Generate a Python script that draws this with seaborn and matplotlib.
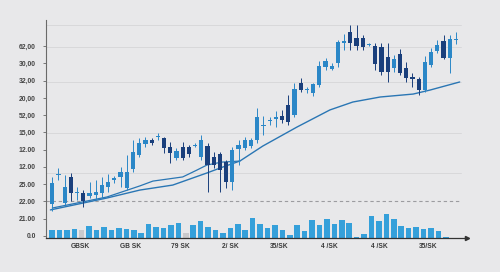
import numpy as np
import pandas as pd
import matplotlib
matplotlib.use("Agg")
import matplotlib.pyplot as plt
import seaborn as sns

# ---------------- data ----------------
opens = [18.5, 35.3, 19.1, 34.2, 24.9, 24.9, 23.2, 23.7, 24.9, 28.4,
         32.4, 34.2, 27.8, 38.8, 46.9, 53.3, 55.6, 57.3, 56.7, 51.5,
         45.2, 51.5, 51.5, 52.1, 45.7, 52.1, 45.7, 47.5, 42.8, 31.3,
         50.4, 51.0, 52.1, 55.6, 63.7, 66.6, 67.7, 69.5, 75.9, 70.1,
         88.6, 84.5, 82.8, 87.4, 97.9, 96.7, 100.2, 111.8, 118.1, 114.6,
         114.6, 110.6, 110.0, 109.4, 103.6, 97.3, 105.4, 97.3, 92.1, 90.9,
         84.5, 99.0, 107.1, 112.9, 103.1, 113.8]
closes = [30.7, 35.9, 28.4, 24.9, 25.5, 20.3, 24.9, 25.5, 29.5, 31.3,
          33.6, 37.1, 37.1, 48.6, 53.9, 55.6, 53.9, 57.9, 51.0, 48.1,
          49.2, 45.2, 47.5, 52.7, 55.6, 41.1, 41.1, 38.2, 31.3, 49.8,
          52.7, 55.6, 55.6, 68.9, 64.3, 67.2, 68.9, 67.2, 66.0, 85.1,
          84.5, 85.1, 88.0, 98.4, 101.3, 98.4, 112.3, 112.9, 111.8, 110.0,
          109.4, 111.2, 99.6, 95.0, 95.0, 102.5, 94.4, 91.5, 90.9, 84.5,
          100.8, 106.5, 110.6, 103.1, 114.1, 114.1]
highs = [34.2, 39.4, 35.3, 36.5, 28.4, 26.6, 31.3, 32.4, 34.2, 35.9,
         34.7, 40.0, 46.9, 55.6, 56.7, 57.3, 56.7, 59.6, 57.3, 54.4,
         51.0, 54.4, 52.7, 53.9, 58.5, 53.9, 48.6, 48.6, 44.0, 51.5,
         55.6, 57.3, 56.7, 74.1, 69.5, 68.9, 72.4, 73.0, 81.6, 88.6,
         91.5, 86.3, 88.6, 101.3, 103.1, 100.2, 113.5, 117.0, 122.2, 122.2,
         116.4, 111.8, 111.8, 111.8, 111.8, 104.8, 108.3, 100.8, 94.4, 92.1,
         104.2, 108.9, 113.5, 116.4, 116.4, 118.1]
lows = [14.5, 32.4, 17.9, 20.3, 20.8, 16.8, 22.0, 20.8, 22.0, 25.5,
        30.7, 28.4, 26.6, 37.1, 45.7, 51.5, 52.7, 55.6, 48.1, 42.3,
        44.0, 44.0, 45.7, 51.5, 44.0, 25.5, 39.4, 25.5, 27.8, 26.6,
        41.1, 49.8, 51.0, 53.9, 58.5, 64.3, 63.1, 65.4, 64.3, 68.9,
        83.4, 82.8, 81.1, 86.3, 96.1, 96.1, 97.9, 107.7, 107.7, 107.7,
        107.7, 110.0, 96.1, 93.2, 89.2, 95.0, 93.2, 89.2, 86.3, 81.6,
        83.4, 97.9, 106.0, 102.5, 94.4, 111.2]

volume = [80, 80, 80, 90, 80, 120, 80, 110, 80, 100,
          90, 80, 50, 140, 110, 100, 130, 150, 50, 130,
          170, 110, 80, 50, 100, 140, 80, 200, 140, 100,
          130, 80, 30, 130, 70, 180, 130, 190, 140, 180,
          150, 10, 40, 220, 170, 240, 190, 120, 100, 110,
          90, 100, 70, 10]
volume_muted = [4, 18]

ma_slow_idx = [-0.3, 8.8, 14.1, 19.4, 24.9, 27.5, 30.2, 33.9, 39.4, 44.7,
               48.4, 52.8, 58.1, 60.8, 65.6]
ma_slow_val = [15.1, 22.0, 26.6, 29.5, 36.5, 40.0, 43.4, 52.1, 63.1, 73.0,
               77.6, 80.5, 82.2, 84.5, 89.2]
ma_fast_idx = [0.0, 8.8, 14.1, 16.2, 21.0, 23.3, 24.9, 27.3, 30.2]
ma_fast_val = [16.2, 22.6, 29.0, 31.8, 34.2, 38.2, 41.1, 42.8, 43.4]

y_tick_values = [0, 10, 20, 30, 40, 50, 60, 70, 80, 90, 100, 110]
y_tick_labels = ["0.0", "21.00", "22.00", "25.00", "12.00", "12.00",
                 "15,00", "52,00", "20,00", "32,00", "30,00", "62,00"]
x_tick_labels = ["GBSK", "GB SK", "79 SK", "2/ SK", "35/SK", "4 /SK", "4 /SK", "35/SK"]

grid_levels = [36.5, 59.6, 89.2, 109.4, 122.2]
ref_level = 20

# ---------------- style ----------------
BG = "#e8e8ea"
LIGHT = "#2b87c7"
DARK = "#1a3f7c"
VOL = "#35a0da"
MUTED = "#c9cacd"
MA = "#2a76b4"

sns.set_theme(style="white")
plt.rcParams["font.family"] = ["Liberation Sans", "DejaVu Sans"]

fig = plt.figure(figsize=(5.0, 2.72), dpi=100, facecolor=BG)
pos = [46 / 500, 1 - 238 / 272, 421 / 500, 218 / 272]

# volume axes (behind)
ax_v = fig.add_axes(pos, facecolor=BG)
vol_df = pd.DataFrame({
    "bar": np.arange(len(volume)),
    "volume": volume,
    "kind": ["muted" if i in volume_muted else "normal" for i in range(len(volume))],
})
sns.barplot(data=vol_df, x="bar", y="volume", hue="kind",
            palette={"normal": VOL, "muted": MUTED}, dodge=False,
            width=0.74, saturation=1, legend=False, linewidth=0, ax=ax_v)
ax_v.set_xlim(-0.81, 55.85)
ax_v.set_ylim(0, 2180)
ax_v.axis("off")

# main price axes
ax = fig.add_axes(pos, facecolor="none")
o = np.array(opens); c = np.array(closes)
h = np.array(highs); l = np.array(lows)
idx = np.arange(len(o))
cols = np.where(c >= o, LIGHT, DARK)

for lvl in grid_levels:
    ax.axhline(lvl, color="#d5d5d8", lw=0.6, zorder=0, xmax=0.985)
ax.axhline(ref_level, color="#9c9ca0", lw=0.8, ls=(0, (3, 2.5)), zorder=0.5, xmax=0.985)

ax.vlines(idx, l, h, colors=cols, lw=0.7, zorder=2)
ax.bar(idx, np.maximum(np.abs(c - o), 0.5), bottom=np.minimum(o, c),
       width=0.68, color=cols, linewidth=0, zorder=3)

sns.lineplot(x=ma_fast_idx, y=ma_fast_val, ax=ax, color=MA, lw=0.9, zorder=1.5)
sns.lineplot(x=ma_slow_idx, y=ma_slow_val, ax=ax, color=MA, lw=1.0, zorder=1.5)

ax.set_xlim(-1.01, 66.78)
ax.set_ylim(-1.16, 125.1)

ax.set_yticks(y_tick_values)
ax.set_yticklabels(y_tick_labels)
tick_pos = [4.6 + 8 * k for k in range(len(x_tick_labels))]
ax.set_xticks(tick_pos)
ax.set_xticklabels(x_tick_labels)

ax.tick_params(axis="y", length=2.2, width=0.6, color="#666666", pad=5.2,
               labelsize=4.9, labelcolor="#444444", left=True)
ax.tick_params(axis="x", length=0, pad=3.6, labelsize=4.8, labelcolor="#3a3a3a")
for lab in ax.get_yticklabels() + ax.get_xticklabels():
    lab.set_fontweight("bold")

for s in ["top", "right"]:
    ax.spines[s].set_visible(False)
ax.spines["left"].set_color("#6a6a6a")
ax.spines["left"].set_linewidth(0.8)
ax.spines["bottom"].set_color("#333333")
ax.spines["bottom"].set_linewidth(0.9)
ax.plot([1], [0], marker=">", ms=3, color="#333333", transform=ax.transAxes,
        clip_on=False)
ax.set_xlabel("")
ax.set_ylabel("")

fig.savefig("out.png", dpi=100, facecolor=BG)
